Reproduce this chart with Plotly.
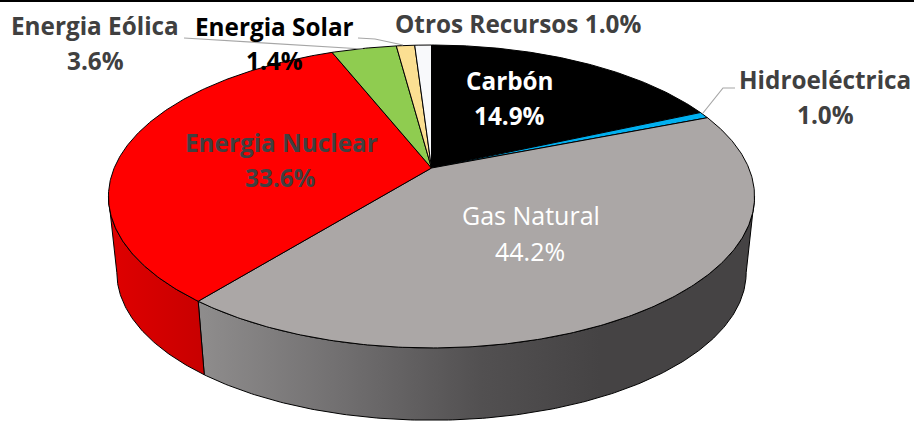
import numpy as np
import plotly.graph_objects as go

# Data as printed on the chart
categories = ["Carbón", "Hidroeléctrica", "Gas Natural", "Energia Nuclear",
              "Energia Eólica", "Energia Solar", "Otros Recursos"]
values = [14.9, 1.0, 44.2, 33.6, 3.6, 1.4, 1.0]
# Slice shares as actually drawn in the picture (the 3-D view distorts them)
drawn_shares = [18.3, 0.7, 41.8, 33.2, 3.9, 1.1, 1.0]
colors = ["#000000", "#00b0f0", "#aba7a6", "#ff0000", "#8fcc50", "#fbdf92", "#f8f9fb"]

W, H = 914, 422
CX, CY = 431.5, 168.0      # image of the pie centre
A, B, P = 317.3, 146.1, 0.188   # perspective circle
S, D = 0.974, 77.0         # lower rim scale and drop


def rim(theta, lower=False):
    u, v = np.sin(theta), np.cos(theta)
    w = 1 + P * v
    x, y = A * u / w, -B * v / w
    if lower:
        x, y = S * x, S * y + D
    return CX + x, CY + y


def arc(t0, t1):
    n = max(int(abs(t1 - t0) / 0.01), 2)
    return np.linspace(t0, t1, n)


edges = 2 * np.pi * np.cumsum([0] + drawn_shares) / sum(drawn_shares)
fig = go.Figure()

# Side walls
sil_r = np.arccos(-P)
sil_l = 2 * np.pi - sil_r
gas_end, nuc_start = edges[3], edges[3]


def wall(t0, t1, **kw):
    t = arc(t0, t1)
    x1, y1 = rim(t)
    x2, y2 = rim(t[::-1], True)
    fig.add_trace(go.Scatter(x=np.r_[x1, x2, x1[0]], y=np.r_[y1, y2, y1[0]], mode="lines",
                             fill="toself", line=dict(color="#000000", width=1),
                             hoverinfo="skip", showlegend=False, **kw))


wall(sil_r, gas_end, fillgradient=dict(
    type="horizontal", start=203, stop=600,
    colorscale=[[0, "#8e8c8c"], [0.35, "#716f70"], [0.7, "#525051"], [1, "#454344"]]))
wall(nuc_start, sil_l, fillgradient=dict(
    type="horizontal", start=115, stop=203,
    colorscale=[[0, "#de0000"], [1, "#c80000"]]))

# Top face
for i, name in enumerate(categories):
    x, y = rim(arc(edges[i], edges[i + 1]))
    fig.add_trace(go.Scatter(x=np.r_[CX, x, CX], y=np.r_[CY, y, CY], mode="lines",
                             fill="toself", fillcolor=colors[i],
                             line=dict(color="#000000", width=1),
                             name=name, hoverinfo="name", showlegend=False))

# Leader lines
leaders = [
    [(184, 38), (363, 49)],
    [(358, 38), (375, 39), (403, 45)],
    [(735, 88), (723, 88), (703, 113)],
]
for pts in leaders:
    fig.add_trace(go.Scatter(x=[p[0] for p in pts], y=[p[1] for p in pts], mode="lines",
                             line=dict(color="#a6a6a6", width=1.2),
                             hoverinfo="skip", showlegend=False))

# Labels: (name line position, value line position, colour, bold)
label_style = {
    "Carbón": ((510, 80), (509, 115), "#ffffff", True),
    "Hidroeléctrica": ((825, 79), (825, 114), "#404040", True),
    "Gas Natural": ((531, 215), (530, 251), "#ffffff", False),
    "Energia Nuclear": ((281, 142), (280, 177), "#404040", True),
    "Energia Eólica": ((95, 25), (95, 60), "#404040", True),
    "Energia Solar": ((274, 26), (274, 60), "#000000", True),
}
ann = []


def put(txt, pos, col, bold):
    t = f"<b>{txt}</b>" if bold else txt
    ann.append(dict(x=pos[0], y=pos[1], text=t, showarrow=False, xanchor="center", yanchor="middle",
                    font=dict(family="Open Sans", size=24.3 if bold else 25, color=col)))


for name, val in zip(categories, values):
    if name == "Otros Recursos":
        put(f"{name} {val:.1f}%", (518, 23), "#404040", True)
    else:
        p1, p2, c, b = label_style[name]
        put(name, p1, c, b)
        put(f"{val:.1f}%", p2, c, b)

fig.update_layout(
    width=W, height=H, margin=dict(l=0, r=0, t=0, b=0),
    paper_bgcolor="#ffffff", plot_bgcolor="#ffffff",
    xaxis=dict(range=[0, W], visible=False, fixedrange=True),
    yaxis=dict(range=[H, 0], visible=False, fixedrange=True),
    annotations=ann,
    shapes=[dict(type="rect", x0=0, x1=W, y0=0, y1=2, fillcolor="#000000", line_width=0)],
)
fig.write_html("out.html", config=dict(displayModeBar=False),
               post_script="document.body.style.margin='0';document.documentElement.style.overflow='hidden';")
